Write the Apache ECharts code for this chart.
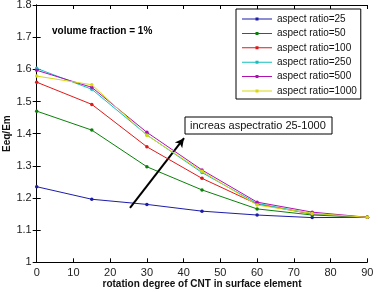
<!DOCTYPE html>
<html><head><meta charset="utf-8">
<script src="https://cdn.jsdelivr.net/npm/echarts@6/dist/echarts.min.js"></script>
<style>html,body{margin:0;padding:0;background:#fff}#c{width:378px;height:292px}</style>
</head><body><div id="c"></div>
<script>
const angles = [0, 15, 30, 45, 60, 75, 90];
const seriesNames = ['aspect ratio=25','aspect ratio=50','aspect ratio=100','aspect ratio=250','aspect ratio=500','aspect ratio=1000'];
const ar25   = [1.235, 1.196, 1.180, 1.159, 1.147, 1.139, 1.140];
const ar50   = [1.470, 1.411, 1.297, 1.225, 1.166, 1.147, 1.140];
const ar100  = [1.560, 1.491, 1.359, 1.261, 1.181, 1.150, 1.140];
const ar250  = [1.603, 1.538, 1.396, 1.279, 1.183, 1.151, 1.140];
const ar500  = [1.597, 1.544, 1.404, 1.287, 1.187, 1.156, 1.140];
const ar1000 = [1.579, 1.552, 1.395, 1.283, 1.178, 1.152, 1.140];
const xTicks = [0,10,20,30,40,50,60,70,80,90];
const yTicks = [1,1.1,1.2,1.3,1.4,1.5,1.6,1.7,1.8];
const arrowFrom = [25.4, 1.169];
const arrowTo = [40.1, 1.386];
const colors = ['#1c1caa','#0a800a','#e01818','#10c0c0','#b010b0','#d8d810'];
const allData = [ar25, ar50, ar100, ar250, ar500, ar1000];
const font = 'Liberation Sans, Arial, sans-serif';
const legendIcon = 'path://M0,1h30v1h-30z M13.5,0h3v3h-3z';

const chart = echarts.init(document.getElementById('c'));
const series = allData.map((d, i) => ({
  name: seriesNames[i], type: 'line', data: angles.map((a, j) => [a, d[j]]),
  symbol: 'circle', symbolSize: 3.5, lineStyle: {width: 1, color: colors[i]},
  itemStyle: {color: colors[i]}, animation: false, z: 3 + i
}));
series.push({
  type: 'line', data: [], silent: true, animation: false,
  markLine: {
    silent: true, symbol: ['none', 'arrow'], symbolSize: [7, 9],
    label: {show: false},
    lineStyle: {color: '#000', width: 2, type: 'solid'},
    data: [[{coord: arrowFrom}, {coord: arrowTo}]]
  }
});
const axCommon = {
  axisLine: {lineStyle: {color: '#000', width: 1}},
  axisTick: {inside: true, length: 4, lineStyle: {color: '#000'}},
  splitLine: {show: false}
};
chart.setOption({
  animation: false,
  grid: {left: 36.7, right: 10.7, top: 5, bottom: 29.7, containLabel: false, outerBoundsMode: 'none'},
  xAxis: [
    Object.assign({type: 'value', min: 0, max: 90, interval: 10, position: 'bottom',
      axisLabel: {color: '#222', fontFamily: font, fontSize: 11, margin: 5},
      name: 'rotation degree of CNT in surface element', nameLocation: 'middle', nameGap: 17, nameMoveOverlap: false,
      nameTextStyle: {fontFamily: font, fontSize: 10, fontWeight: 'bold', color: '#111'}}, axCommon),
    Object.assign({type: 'value', min: 0, max: 90, interval: 10, position: 'top',
      axisLabel: {show: false}}, axCommon)
  ],
  yAxis: [
    Object.assign({type: 'value', min: 1, max: 1.8, interval: 0.1, position: 'left',
      axisLabel: {color: '#222', fontFamily: font, fontSize: 11, margin: 5,
        formatter: v => String(Math.round(v*10)/10)},
      name: 'Eeq/Em', nameLocation: 'middle', nameGap: 24, nameMoveOverlap: false,
      nameTextStyle: {fontFamily: font, fontSize: 10, fontWeight: 'bold', color: '#111'}}, axCommon),
    Object.assign({type: 'value', min: 1, max: 1.8, interval: 0.1, position: 'right',
      axisLabel: {show: false}}, axCommon)
  ],
  legend: {
    orient: 'vertical', left: 236, top: 9,
    padding: [4, 4, 2, 6], itemGap: 2.4, itemWidth: 30, itemHeight: 3,
    backgroundColor: '#fff', borderColor: '#000', borderWidth: 1,
    textStyle: {fontFamily: font, fontSize: 10, color: '#111', lineHeight: 12},
    data: seriesNames.map(n => ({name: n, icon: legendIcon}))
  },
  graphic: [
    {type: 'text', left: 52, top: 26, style: {text: 'volume fraction = 1%', font: 'bold 10px ' + font, fill: '#000'}},
    {type: 'rect', shape: {x: 185, y: 117, width: 147, height: 17}, style: {fill: '#fff', stroke: '#000', lineWidth: 1}, z: 10},
    {type: 'text', left: 190, top: 120, z: 11, style: {text: 'increas aspectratio 25-1000', font: '11px ' + font, fill: '#111'}}
  ],
  series: series
});
</script></body></html>
